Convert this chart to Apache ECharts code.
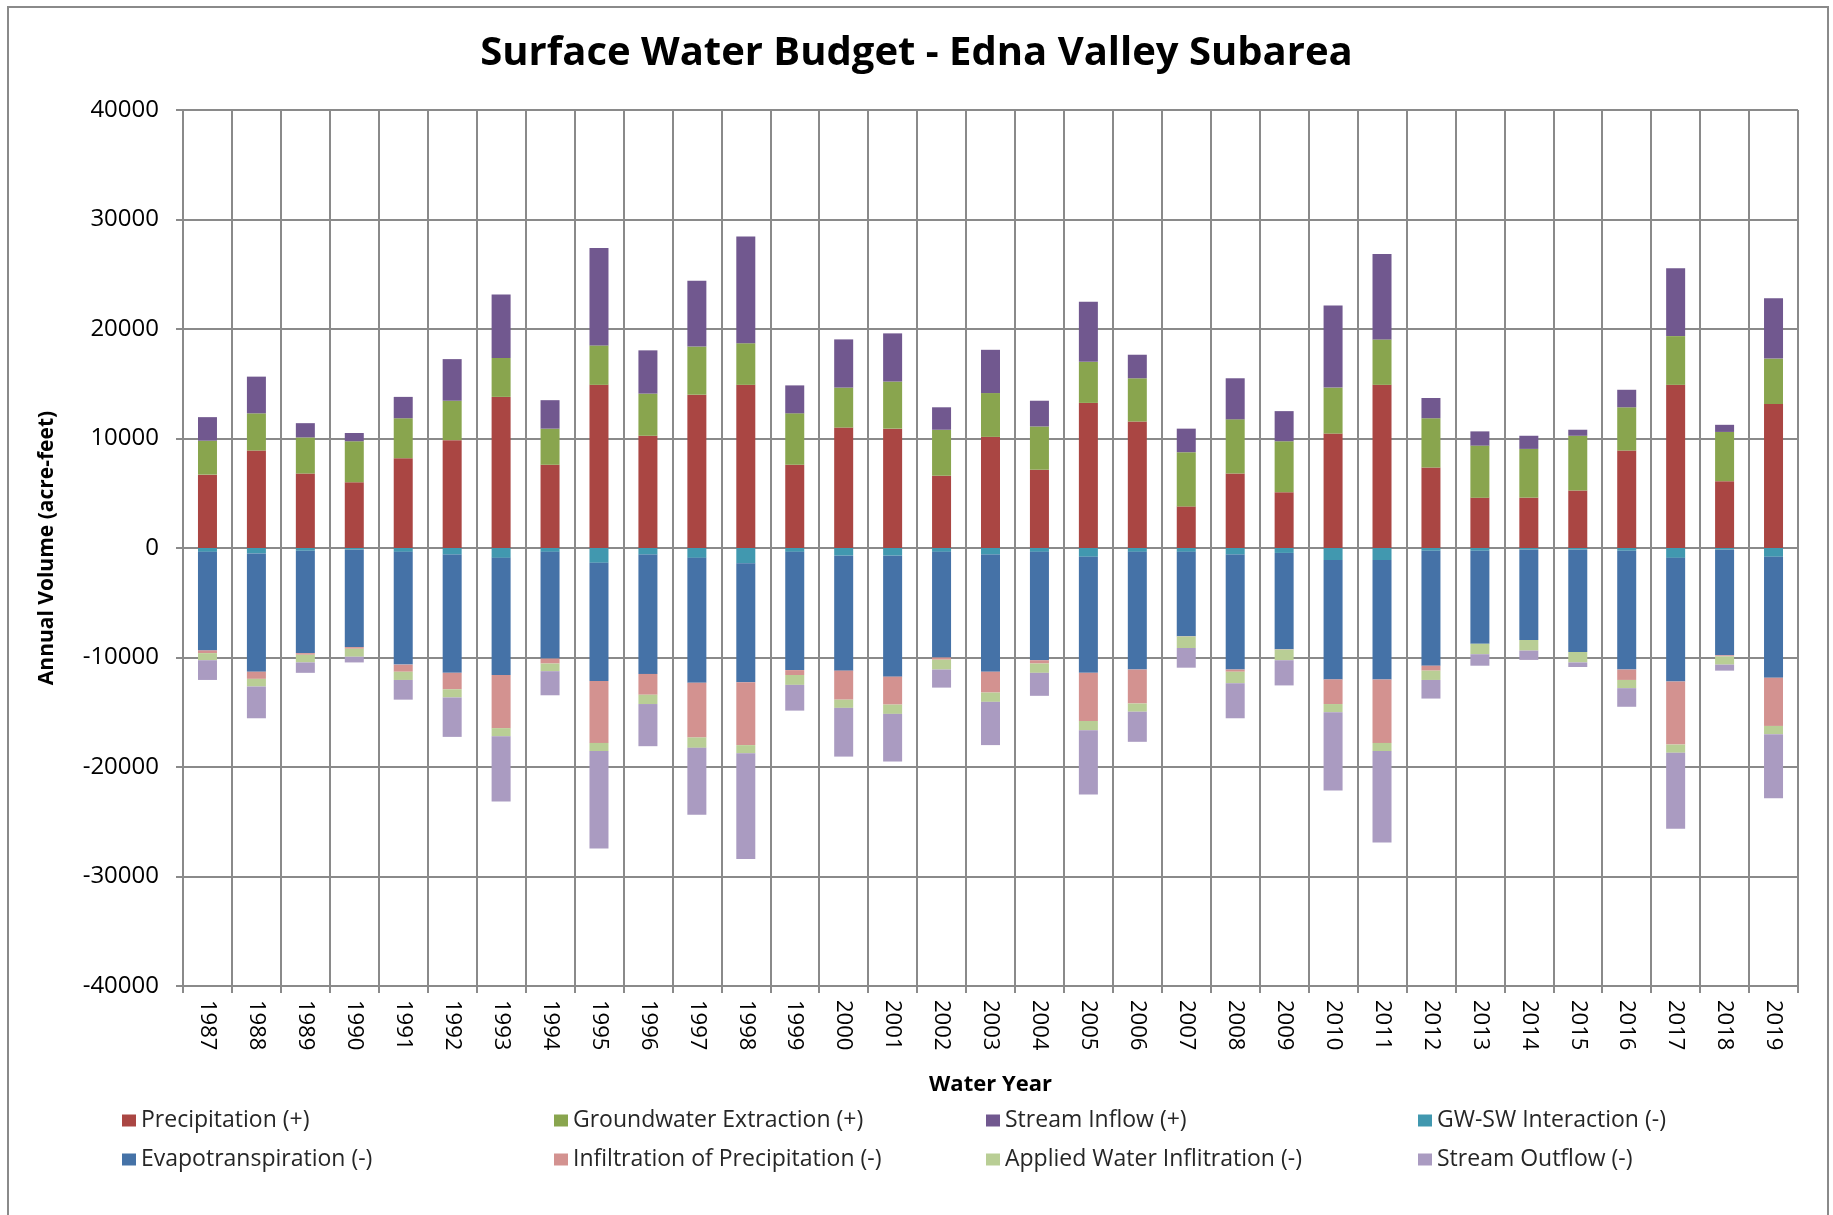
<!DOCTYPE html>
<html>
<head>
<meta charset="utf-8">
<title>Surface Water Budget - Edna Valley Subarea</title>
<script src="https://cdn.jsdelivr.net/npm/echarts@6/dist/echarts.min.js"></script>
<style>
    * {
        margin: 0;
        padding: 0;
    }
    body {
        background: #ffffff;
    }
    #myEchArt {
        width: 1833px;
        height: 1215px;
    }
</style>
</head>
<body>
<div id="myEchArt"></div>
<script>
    // water years
    const years = ['1987', '1988', '1989', '1990', '1991', '1992', '1993', '1994', '1995', '1996', '1997',
        '1998', '1999', '2000', '2001', '2002', '2003', '2004', '2005', '2006', '2007', '2008', '2009',
        '2010', '2011', '2012', '2013', '2014', '2015', '2016', '2017', '2018', '2019'];

    // inflows (+), acre-feet
    const precipitation = [6700, 8900, 6800, 6000, 8200, 9850, 13800, 7600, 14900, 10250, 14000,
        14900, 7600, 11000, 10900, 6600, 10150, 7150, 13250, 11550, 3800, 6800, 5100,
        10450, 14900, 7350, 4600, 4600, 5250, 8900, 14900, 6100, 13150];
    const gwExtraction = [3100, 3400, 3300, 3750, 3650, 3600, 3550, 3300, 3600, 3850, 4400,
        3800, 4700, 3650, 4300, 4200, 4000, 3950, 3750, 3950, 4950, 4950, 4650,
        4200, 4150, 4500, 4750, 4450, 5000, 3950, 4450, 4500, 4150];
    const streamInflow = [2150, 3350, 1300, 750, 1950, 3800, 5800, 2600, 8900, 3950, 6000,
        9750, 2550, 4400, 4400, 2050, 3950, 2350, 5500, 2150, 2150, 3750, 2750,
        7500, 7800, 1850, 1300, 1200, 550, 1600, 6200, 650, 5500];

    // outflows (-), acre-feet
    const gwSwInteraction = [-350, -500, -250, -150, -350, -600, -900, -350, -1350, -600, -900,
        -1400, -350, -700, -700, -350, -600, -350, -800, -350, -350, -600, -450,
        -1100, -1100, -250, -250, -150, -150, -250, -900, -150, -800];
    const evapotranspiration = [-9000, -10800, -9350, -8900, -10300, -10800, -10700, -9750, -10800, -10900, -11400,
        -10850, -10800, -10500, -11050, -9650, -10700, -9900, -10600, -10750, -7700, -10500, -8800,
        -10900, -10900, -10500, -8500, -8250, -9350, -10850, -11300, -9650, -11050];
    const infiltration = [-250, -650, -150, -150, -650, -1500, -4850, -450, -5650, -1900, -5000,
        -5750, -450, -2650, -2550, -200, -1900, -300, -4400, -3100, -30, -200, -30,
        -2250, -5800, -450, 0, 0, 0, -950, -5750, -100, -4400];
    const appliedWater = [-650, -700, -700, -730, -750, -750, -750, -700, -750, -850, -950,
        -750, -900, -750, -850, -900, -850, -850, -850, -750, -1050, -1050, -970,
        -750, -750, -850, -950, -970, -950, -750, -750, -750, -750];
    const streamOutflow = [-1800, -2900, -950, -520, -1800, -3600, -5950, -2200, -8900, -3850, -6100,
        -9650, -2350, -4450, -4350, -1650, -3950, -2100, -5850, -2750, -1800, -3200, -2300,
        -7150, -8350, -1700, -1050, -850, -420, -1700, -6950, -550, -5850];

    const yTicks = { min: -40000, max: 40000, interval: 10000 };

    const seriesList = [
        { name: 'Precipitation (+)', data: precipitation, color: '#AA4643' },
        { name: 'Groundwater Extraction (+)', data: gwExtraction, color: '#89A54E' },
        { name: 'Stream Inflow (+)', data: streamInflow, color: '#71588F' },
        { name: 'GW-SW Interaction (-)', data: gwSwInteraction, color: '#4198AF' },
        { name: 'Evapotranspiration (-)', data: evapotranspiration, color: '#4572A7' },
        { name: 'Infiltration of Precipitation (-)', data: infiltration, color: '#D39290' },
        { name: 'Applied Water Inflitration (-)', data: appliedWater, color: '#B9CE95' },
        { name: 'Stream Outflow (-)', data: streamOutflow, color: '#AA9BC1' }
    ];

    const gridColor = '#8a8a8a';
    const font = 'Open Sans';

    // one legend per column, two rows each
    const legendCols = [117, 549, 981, 1413];
    const legends = legendCols.map(function (x, i) {
        return {
            orient: 'vertical',
            left: x,
            top: 1104,
            itemWidth: 14,
            itemHeight: 12,
            itemGap: 16,
            icon: 'rect',
            data: [seriesList[i].name, seriesList[i + 4].name],
            textStyle: { fontFamily: font, fontSize: 23, color: '#262626' }
        };
    });

    let myChart = echarts.init(document.getElementById('myEchArt'));
    let option = {
        backgroundColor: '#ffffff',
        animation: false,
        title: {
            text: 'Surface Water Budget - Edna Valley Subarea',
            left: 'center',
            top: 29,
            textStyle: { fontFamily: font, fontSize: 40, fontWeight: 'bold', color: '#000000' }
        },
        // chart outer border
        graphic: [{
            type: 'rect',
            shape: { x: 8, y: 7, width: 1820, height: 1240 },
            style: { fill: 'none', stroke: gridColor, lineWidth: 2 },
            silent: true
        }],
        legend: legends,
        grid: { left: 183, right: 35, top: 110, bottom: 229 },
        xAxis: {
            type: 'category',
            data: years,
            name: 'Water Year',
            nameLocation: 'middle',
            nameGap: 88,
            nameTextStyle: { fontFamily: font, fontSize: 22, fontWeight: 'bold', color: '#000000' },
            axisLine: { onZero: false, lineStyle: { color: gridColor, width: 2 } },
            axisTick: { show: true, length: 7, lineStyle: { color: gridColor, width: 2 } },
            axisLabel: { rotate: -90, margin: 14, fontFamily: font, fontSize: 22, color: '#000000', interval: 0 },
            splitLine: { show: true, interval: 0, lineStyle: { color: gridColor, width: 2 } }
        },
        yAxis: {
            type: 'value',
            min: yTicks.min,
            max: yTicks.max,
            interval: yTicks.interval,
            name: 'Annual Volume (acre-feet)',
            nameLocation: 'middle',
            nameGap: 125,
            nameTextStyle: { fontFamily: font, fontSize: 21, fontWeight: 'bold', color: '#000000' },
            axisLine: { show: true, lineStyle: { color: gridColor, width: 2 } },
            axisTick: { show: true, length: 7, lineStyle: { color: gridColor, width: 2 } },
            axisLabel: {
                margin: 24,
                fontFamily: font,
                fontSize: 24,
                color: '#000000',
                formatter: function (v) { return String(v); }
            },
            splitLine: { show: true, lineStyle: { color: gridColor, width: 2 } }
        },
        series: seriesList.map(function (s) {
            return {
                name: s.name,
                type: 'bar',
                stack: 'budget',
                barWidth: 19,
                data: s.data,
                itemStyle: { color: s.color }
            };
        })
    };
    myChart.setOption(option);
</script>
</body>
</html>
